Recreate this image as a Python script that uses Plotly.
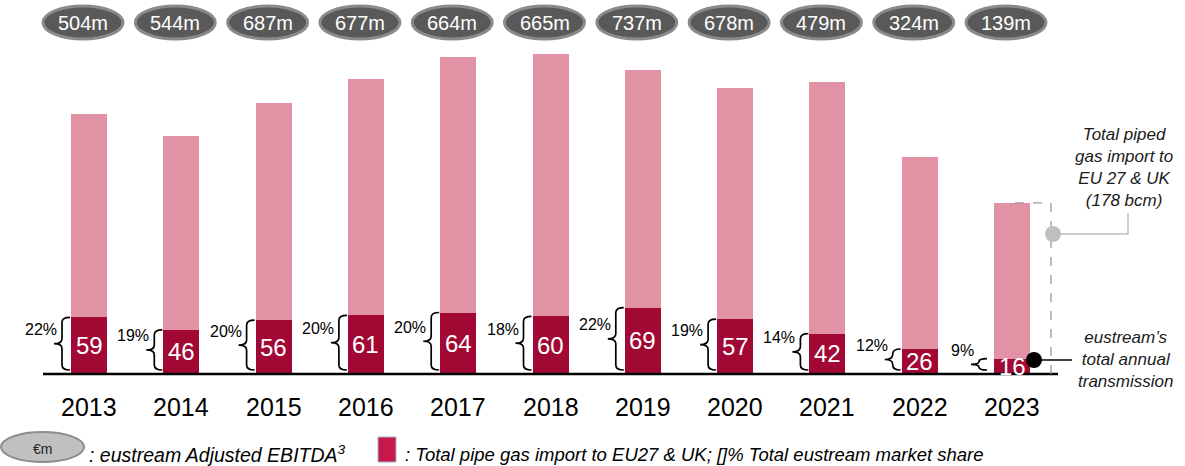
import plotly.graph_objects as go

# ---------------- data ----------------
years = ["2013", "2014", "2015", "2016", "2017", "2018", "2019", "2020", "2021", "2022", "2023"]
total_import_bcm = [271, 248, 282, 307, 330, 333, 316, 298, 304, 226, 178]
eustream_bcm = [59, 46, 56, 61, 64, 60, 69, 57, 42, 26, 16]
market_share = ["22%", "19%", "20%", "20%", "20%", "18%", "22%", "19%", "14%", "12%", "9%"]
ebitda_labels = ["504m", "544m", "687m", "677m", "664m", "665m", "737m", "678m", "479m", "324m", "139m"]

rest_bcm = [t - e for t, e in zip(total_import_bcm, eustream_bcm)]

# ---------------- geometry helpers (pixel -> data / paper) ----------------
W, H = 1185, 466
X0PX, XSC = 89.0, 92.3       # px of first category, px per category
Y0PX, YSC = 374.0, 0.961     # px of baseline, px per bcm


def xd(px):
    return (px - X0PX) / XSC


def yd(py):
    return (Y0PX - py) / YSC


def xp(px):
    return px / W


def yp(py):
    return 1 - py / H


FONT = "Arial, Liberation Sans, sans-serif"
DARK = "#A10833"
PINK = "#E292A5"

xs = list(range(len(years)))

fig = go.Figure()
fig.add_trace(go.Bar(x=xs, y=eustream_bcm, marker=dict(color=DARK, line=dict(width=0)),
                     width=36 / XSC, hoverinfo="skip", showlegend=False))
fig.add_trace(go.Bar(x=xs, y=rest_bcm, marker=dict(color=PINK, line=dict(width=0)),
                     width=36 / XSC, hoverinfo="skip", showlegend=False))

shapes = []
ann = []


def A(**kw):
    kw.setdefault("xanchor", "center")
    kw.setdefault("yanchor", "middle")
    kw.setdefault("showarrow", False)
    ann.append(kw)


# baseline
shapes.append(dict(type="line", xref="x", yref="y", x0=xd(43), x1=xd(1058), y0=0, y1=0,
                   line=dict(color="black", width=2.5)))

for k, x in enumerate(xs):
    cx = X0PX + XSC * k
    # value inside dark bar
    A(x=x, y=eustream_bcm[k] / 2, xref="x", yref="y", text=str(eustream_bcm[k]),
      font=dict(family=FONT, size=24, color="white"))
    # year label
    A(x=x, y=yd(407), xref="x", yref="y", text=years[k],
      font=dict(family=FONT, size=25, color="black"))
    # EBITDA ellipse
    ex = cx - 6
    shapes.append(dict(type="circle", xref="x", yref="y", x0=xd(ex - 40), x1=xd(ex + 40),
                       y0=yd(39), y1=yd(6), fillcolor="#595959",
                       line=dict(color="#8A8A8A", width=3), layer="above"))
    A(x=xd(ex), y=yd(23), xref="x", yref="y", text=ebitda_labels[k],
      font=dict(family=FONT, size=20, color="white"))
    # brace
    xl = cx - 19
    if k == len(xs) - 1:
        xl = cx - 25
    bx = xl - 8
    tip = xl - 16
    yt = Y0PX - eustream_bcm[k] * YSC
    yb = 370.0
    ym = (yt + yb) / 2
    r = min(5.0, (yb - yt) / 4)
    pts = [
        ("M", [(xl, yt)]),
        ("Q", [(bx, yt), (bx, yt + r)]),
        ("L", [(bx, ym - r)]),
        ("Q", [(bx, ym), (tip, ym)]),
        ("Q", [(bx, ym), (bx, ym + r)]),
        ("L", [(bx, yb - r)]),
        ("Q", [(bx, yb), (xl, yb)]),
    ]
    path = " ".join(cmd + " " + " ".join(f"{xd(a):.5f},{yd(b):.5f}" for a, b in p) for cmd, p in pts)
    shapes.append(dict(type="path", xref="x", yref="y", path=path,
                       line=dict(color="black", width=1.7)))
    A(x=xd(bx - 3), y=yd(ym - 14), xref="x", yref="y", text=market_share[k], xanchor="right",
      font=dict(family=FONT, size=16, color="black"))

# right side callouts
last_top = Y0PX - total_import_bcm[-1] * YSC
shapes.append(dict(type="path", xref="x", yref="y",
                   path=f"M {xd(1015)},{yd(last_top)} L {xd(1051)},{yd(last_top)} L {xd(1051)},{yd(374)}",
                   line=dict(color="#9A9A9A", width=1.3, dash="dash")))
shapes.append(dict(type="path", xref="x", yref="y",
                   path=f"M {xd(1053)},{yd(234)} L {xd(1128)},{yd(234)} L {xd(1128)},{yd(213)}",
                   line=dict(color="#BFBFBF", width=1.5)))
shapes.append(dict(type="circle", xref="x", yref="y", x0=xd(1045), x1=xd(1061), y0=yd(242), y1=yd(226),
                   fillcolor="#BFBFBF", line=dict(width=0)))
shapes.append(dict(type="line", xref="x", yref="y", x0=xd(1034), x1=xd(1072), y0=yd(360), y1=yd(360),
                   line=dict(color="black", width=1.5)))
shapes.append(dict(type="circle", xref="x", yref="y", x0=xd(1026), x1=xd(1042), y0=yd(368), y1=yd(352),
                   fillcolor="black", line=dict(width=0)))

A(x=xp(1124), y=yp(168), xref="paper", yref="paper",
  text="<i>Total piped<br>gas import to<br>EU 27 &amp; UK<br>(178 bcm)</i>",
  align="center", font=dict(family=FONT, size=17, color="#1a1a1a"))
A(x=xp(1125), y=yp(359), xref="paper", yref="paper",
  text="<i>eustream’s<br>total annual<br>transmission</i>",
  align="center", font=dict(family=FONT, size=17, color="#1a1a1a"))

# bottom legend
shapes.append(dict(type="circle", xref="paper", yref="paper", x0=xp(1), x1=xp(84), y0=yp(462), y1=yp(432),
                   fillcolor="#C0C0C0", line=dict(color="#8C8C8C", width=2)))
A(x=xp(43), y=yp(449), xref="paper", yref="paper", text="€m",
  font=dict(family=FONT, size=14, color="#222"))
A(x=xp(87), y=yp(454), xref="paper", yref="paper", xanchor="left",
  text="<i>: eustream Adjusted EBITDA<sup>3</sup></i>",
  font=dict(family=FONT, size=19.5, color="black"))
shapes.append(dict(type="rect", xref="paper", yref="paper", x0=xp(378), x1=xp(396), y0=yp(462), y1=yp(437),
                   fillcolor="#C8174A", line=dict(color="#9BB8D3", width=1)))
A(x=xp(403), y=yp(454), xref="paper", yref="paper", xanchor="left",
  text="<i>: Total pipe gas import to EU27 &amp; UK; []% Total eustream market share</i>",
  font=dict(family=FONT, size=18.5, color="black"))

fig.update_layout(
    barmode="stack",
    width=W, height=H,
    margin=dict(l=0, r=0, t=0, b=0),
    paper_bgcolor="white", plot_bgcolor="white",
    xaxis=dict(range=[xd(0), xd(W)], visible=False, fixedrange=True),
    yaxis=dict(range=[yd(H), yd(0)], visible=False, fixedrange=True),
    shapes=shapes, annotations=ann,
    bargap=0,
)

fig.write_html("out.html", config={"displayModeBar": False},
               post_script="document.body.style.margin='0';")
